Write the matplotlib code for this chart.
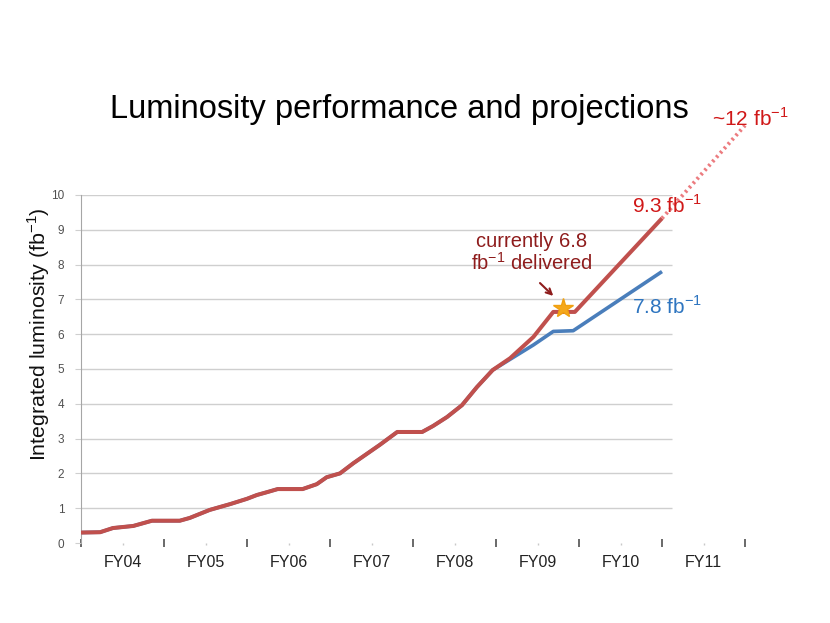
import numpy as np
import matplotlib
matplotlib.use("Agg")
import matplotlib.pyplot as plt

plt.rcParams['font.family'] = ['Liberation Sans', 'DejaVu Sans']
plt.rcParams['mathtext.fontset'] = 'custom'
plt.rcParams['mathtext.rm'] = 'Liberation Sans'

# delivered luminosity, common to both curves (years since start of FY04, fb^-1)
hist_x = [0, 0.23, 0.385, 0.63, 0.855, 1.19, 1.31, 1.55, 1.80, 2.0, 2.12, 2.24,
          2.37, 2.67, 2.84, 2.96, 3.12, 3.28, 3.60, 3.81, 4.11, 4.24, 4.41,
          4.59, 4.77, 4.96]
hist_y = [0.30, 0.31, 0.43, 0.49, 0.64, 0.64, 0.72, 0.95, 1.12, 1.27, 1.38, 1.46,
          1.55, 1.55, 1.69, 1.89, 2.0, 2.29, 2.82, 3.19, 3.19, 3.36, 3.62,
          3.96, 4.48, 4.97]

# design (red) and base (blue) continuations
design_x = [5.17, 5.45, 5.69, 5.95, 7.0]
design_y = [5.31, 5.92, 6.64, 6.64, 9.33]
base_x = [5.45, 5.69, 5.93, 7.0]
base_y = [5.69, 6.08, 6.10, 7.8]

# dotted extension to FY11
ext_x = [7.0, 8.0]
ext_y = [9.33, 12.0]

star_x, star_y = 5.81, 6.75

fy_labels = ['FY04', 'FY05', 'FY06', 'FY07', 'FY08', 'FY09', 'FY10', 'FY11']

red = '#c0504d'
blue = '#4a7ebb'
txt_red = '#d01818'
dark_red = '#8e1c1c'

fig = plt.figure(figsize=(8.3, 6.23), dpi=100)
ax = fig.add_axes([81 / 830, 1 - 543 / 623, 664 / 830, 348 / 623])

ax.set_xlim(0, 8)
ax.set_ylim(0, 10)

# gridlines only across the data range
ax.hlines(np.arange(1, 11), 0, 7.12, color='#cfcfcf', lw=1, zorder=0)

ax.plot(hist_x + base_x, hist_y + base_y, color=blue, lw=2.6, zorder=2,
        solid_capstyle='butt')
ax.plot(hist_x + design_x, hist_y + design_y, color=red, lw=2.9, zorder=3,
        solid_capstyle='butt')
ax.plot(ext_x, ext_y, color='#ec7b7f', lw=2.8, ls=(0, (0.6, 0.9)),
        clip_on=False, zorder=3)
ax.plot([star_x], [star_y], marker='*', ms=15, color='#f5a81c',
        mec='#f0a010', zorder=4, clip_on=False)

for s in ['top', 'right', 'bottom']:
    ax.spines[s].set_visible(False)
ax.spines['left'].set_color('#a6a6a6')

ax.set_yticks(range(0, 11))
ax.tick_params(axis='y', length=4, color='#cfcfcf', pad=8, labelsize=8.5,
               labelcolor='#505050')
ax.set_xticks(range(0, 9))
ax.set_xticklabels([])
ax.set_xticks(np.arange(0.5, 8, 1), minor=True)
ax.tick_params(axis='x', which='major', direction='inout', length=6,
               width=1.2, color='#505050')
ax.tick_params(axis='x', which='minor', direction='out', length=1.5,
               width=1, color='#c8c8c8')

for i, lab in enumerate(fy_labels):
    ax.text(i + 0.5, -0.055, lab, transform=ax.get_xaxis_transform(),
            ha='center', va='center', fontsize=11.5, color='#222222')

ax.set_ylabel('Integrated luminosity (fb$^{-1}$)', fontsize=15.4,
              color='#111111')
ax.yaxis.set_label_coords(-0.044, 0.6)

fig.text(399 / 830, 1 - 118 / 623, 'Luminosity performance and projections',
         ha='center', va='baseline', fontsize=23.5, color='black')

ax.text(6.64, 9.48, '9.3 fb$^{-1}$', color=txt_red, fontsize=15,
        va='baseline', ha='left')
ax.text(6.64, 6.58, '7.8 fb$^{-1}$', color='#2e75c0', fontsize=15,
        va='baseline', ha='left')
ax.text(7.60, 11.98, '~12 fb$^{-1}$', color=txt_red, fontsize=15,
        va='baseline', ha='left', clip_on=False)
ax.text(5.43, 8.5, 'currently 6.8', color=dark_red, fontsize=14.5,
        va='baseline', ha='center')
ax.text(5.43, 7.84, 'fb$^{-1}$ delivered', color=dark_red, fontsize=14.5,
        va='baseline', ha='center')
ax.annotate('', xy=(5.69, 7.10), xytext=(5.53, 7.47),
            arrowprops=dict(arrowstyle='->', color=dark_red, lw=1.5,
                            shrinkA=0, shrinkB=0))

fig.savefig('out.png', dpi=100)
